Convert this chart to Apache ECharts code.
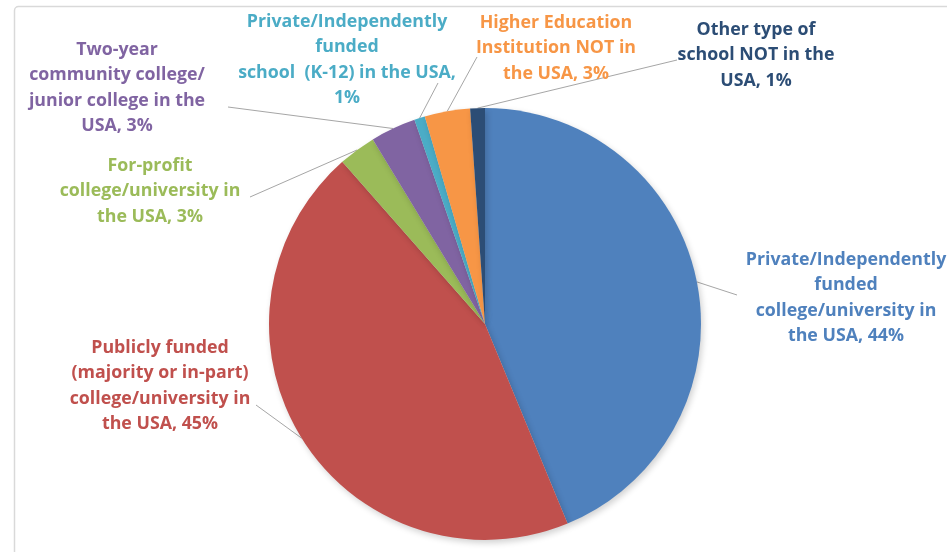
<!DOCTYPE html>
<html>
<head>
<meta charset="utf-8">
<script src="https://cdn.jsdelivr.net/npm/echarts@6/dist/echarts.min.js"></script>
<style>html,body{margin:0;padding:0;background:#fff}#c{width:947px;height:552px}</style>
</head>
<body>
<div id="c"></div>
<script>
const categories = [
  "Private/Independently\nfunded\ncollege/university in\nthe USA",
  "Publicly funded\n(majority or in-part)\ncollege/university in\nthe USA",
  "For-profit\ncollege/university in\nthe USA",
  "Two-year\ncommunity college/\njunior college in the\nUSA",
  "Private/Independently\nfunded\nschool  (K-12) in the USA",
  "Higher Education\nInstitution NOT in\nthe USA",
  "Other type of\nschool NOT in the\nUSA"
];
const values = [43.8, 44.8, 2.8, 3.4, 0.8, 3.4, 1.1];
const colors = ["#4F81BD", "#C0504D", "#9BBB59", "#8064A2", "#4BACC6", "#F79646", "#2C4D75"];

// label placement (block centre) and leader-line end, per slice
const labelPlace = [
  {x: 846, y: 298, end: [737, 295]},
  {x: 160, y: 386, end: [256, 405]},
  {x: 150, y: 191, end: [250, 197]},
  {x: 117, y: 88,  end: [228, 107]},
  {x: 347, y: 60,  end: [438, 83]},
  {x: 556, y: 48,  end: [477, 57]},
  {x: 756, y: 55,  end: [677, 60]}
];

const chart = echarts.init(document.getElementById('c'), null, {renderer: 'canvas'});
chart.setOption({
  animation: false,
  backgroundColor: '#ffffff',
  graphic: [{
    type: 'rect', left: 12, top: 4, silent: true, z: -10,
    shape: {width: 1000, height: 600, r: 4},
    style: {fill: 'none', stroke: '#D9D9D9', lineWidth: 1.5}
  }],
  series: [{
    type: 'pie',
    center: [485, 324],
    radius: 216,
    startAngle: 90,
    clockwise: true,
    percentPrecision: 0,
    avoidLabelOverlap: false,
    itemStyle: {borderWidth: 0, shadowBlur: 6, shadowOffsetX: 2, shadowOffsetY: 3, shadowColor: 'rgba(0,0,0,0.18)'},
    emphasis: {disabled: true},
    label: {
      show: true,
      position: 'outside',
      fontFamily: 'Open Sans',
      fontWeight: 'bold',
      fontSize: 17.8,
      lineHeight: 25.5,
      align: 'center',
      formatter: p => p.name + ',' + (p.dataIndex === 4 ? '\n' : ' ') + p.percent + '%'
    },
    labelLine: {show: true, lineStyle: {color: '#A6A6A6', width: 1}, length: 10, length2: 10},
    labelLayout: function (params) {
      const lp = labelPlace[params.dataIndex];
      const p0 = params.labelLinePoints ? params.labelLinePoints[0] : lp.end;
      return {
        x: lp.x, y: lp.y, align: 'center', verticalAlign: 'middle',
        labelLinePoints: [p0, lp.end, lp.end]
      };
    },
    data: categories.map((n, i) => ({
      name: n, value: values[i],
      itemStyle: {color: colors[i]},
      label: {color: colors[i]}
    }))
  }]
});
</script>
</body>
</html>
